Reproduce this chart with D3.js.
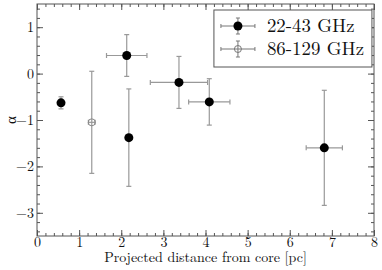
<!DOCTYPE html>
<html>
<head>
<meta charset="utf-8">
<script src="https://cdn.jsdelivr.net/npm/d3@7"></script>
<style>
    body { margin: 0; background: #fff; }
    svg text { font-family: 'Latin Modern Roman' !important; fill: #111; }
</style>
</head>
<body>
<div id="chart"></div>
<script>
// 22-43 GHz points
var lowDist = [0.57, 2.13, 2.18, 3.37, 4.09, 6.82];
var lowDistErr = [0, 0.48, 0, 0.68, 0.49, 0.43];
var lowAlpha = [-0.63, 0.39, -1.38, -0.19, -0.61, -1.60];
var lowAlphaErr = [0.13, 0.45, 1.05, 0.56, 0.50, 1.24];

// 86-129 GHz points
var highDist = [1.30];
var highDistErr = [0.08];
var highAlpha = [-1.05];
var highAlphaErr = [1.10];

var xTicks = [0, 1, 2, 3, 4, 5, 6, 7, 8];
var yTicks = [-3, -2, -1, 0, 1];
var seriesNames = ['22-43 GHz', '86-129 GHz'];

var margin = { top: 4, left: 37, bottom: 34, right: 8 },
    width = 382 - margin.left - margin.right,
    height = 270 - margin.top - margin.bottom;

var svg = d3.select('#chart').append('svg')
    .attr('width', 382)
    .attr('height', 270)
    .attr('font-family', 'Latin Modern Roman')
    .append('g')
    .attr('transform', 'translate(' + margin.left + ',' + margin.top + ')');

var x = d3.scaleLinear().domain([0, 8]).range([0, width]);
var y = d3.scaleLinear().domain([-3.5, 1.5]).range([height, 0]);

var errColor = '#999';
var frameColor = '#555';

function makeRows(dist, dErr, alpha, aErr) {
    return dist.map((d, i) => ({ x: d, xe: dErr[i], y: alpha[i], ye: aErr[i] }));
}
var low = makeRows(lowDist, lowDistErr, lowAlpha, lowAlphaErr);
var high = makeRows(highDist, highDistErr, highAlpha, highAlphaErr);

// ticks on all four sides, pointing in
var minorX = d3.range(0, 8.001, 0.2);
var minorY = d3.range(-3.4, 1.5, 0.2);
var fmt = d => d < 0 ? '\u2212' + Math.abs(d) : '' + d;

function tickAxis(axis, values, size) {
    return axis.tickValues(values).tickSizeInner(-size).tickSizeOuter(0).tickFormat('');
}

function sides() {
    return [
        [d3.axisBottom(x), 'translate(0,' + height + ')', minorX, xTicks],
        [d3.axisTop(x), 'translate(0,0)', minorX, xTicks],
        [d3.axisLeft(y), 'translate(0,0)', minorY, yTicks],
        [d3.axisRight(y), 'translate(' + width + ',0)', minorY, yTicks]
    ];
}
sides().forEach(a => {
    svg.append('g').attr('transform', a[1]).call(tickAxis(a[0], a[2], 3))
        .call(g => g.select('.domain').remove())
        .selectAll('line').attr('stroke', frameColor);
});
sides().forEach(a => {
    svg.append('g').attr('transform', a[1]).call(tickAxis(a[0], a[3], 6))
        .call(g => g.select('.domain').remove())
        .selectAll('line').attr('stroke', frameColor);
});

// labels (font kept at 14-16px, larger sizes fall back to sans here)
var xAxis = d3.axisBottom(x).tickValues(xTicks).tickSize(0).tickPadding(1).tickFormat(fmt);
svg.append('g').attr('transform', 'translate(0,' + height + ')').call(xAxis)
    .attr('font-family', null)
    .call(g => g.select('.domain').remove())
    .selectAll('text').style('font-size', '14px');

var yAxis = d3.axisLeft(y).tickValues(yTicks).tickSize(0).tickPadding(3).tickFormat(fmt);
svg.append('g').call(yAxis)
    .attr('font-family', null)
    .call(g => g.select('.domain').remove())
    .selectAll('text').style('font-size', '14px');

svg.append('rect')
    .attr('width', width).attr('height', height)
    .attr('fill', 'none').attr('stroke', frameColor);

svg.append('text')
    .attr('x', width / 2).attr('y', height + 26)
    .attr('text-anchor', 'middle')
    .style('font-size', '14px')
    .text('Projected distance from core [pc]');

svg.append('text')
    .attr('transform', 'translate(' + (-21) + ',' + y(-1) + ') rotate(-90)')
    .attr('text-anchor', 'middle')
    .style('font-size', '15px')
    .text('\u03b1');

// error bars
function errorBars(data, cls) {
    var g = svg.append('g').attr('class', cls).attr('stroke', errColor).attr('stroke-width', 1.2);
    var cap = 2.5;
    data.forEach(d => {
        g.append('line').attr('x1', x(d.x)).attr('x2', x(d.x))
            .attr('y1', y(d.y + d.ye)).attr('y2', y(d.y - d.ye));
        g.append('line').attr('x1', x(d.x) - cap).attr('x2', x(d.x) + cap)
            .attr('y1', y(d.y + d.ye)).attr('y2', y(d.y + d.ye));
        g.append('line').attr('x1', x(d.x) - cap).attr('x2', x(d.x) + cap)
            .attr('y1', y(d.y - d.ye)).attr('y2', y(d.y - d.ye));
        if (d.xe > 0) {
            g.append('line').attr('x1', x(d.x - d.xe)).attr('x2', x(d.x + d.xe))
                .attr('y1', y(d.y)).attr('y2', y(d.y));
            g.append('line').attr('x1', x(d.x - d.xe)).attr('x2', x(d.x - d.xe))
                .attr('y1', y(d.y) - cap).attr('y2', y(d.y) + cap);
            g.append('line').attr('x1', x(d.x + d.xe)).attr('x2', x(d.x + d.xe))
                .attr('y1', y(d.y) - cap).attr('y2', y(d.y) + cap);
        }
    });
}
errorBars(low, 'err-low');
errorBars(high, 'err-high');

svg.selectAll('.pt-low').data(low).enter().append('circle')
    .attr('class', 'pt-low')
    .attr('cx', d => x(d.x)).attr('cy', d => y(d.y))
    .attr('r', 4.5).attr('fill', '#000');

svg.selectAll('.pt-high').data(high).enter().append('circle')
    .attr('class', 'pt-high')
    .attr('cx', d => x(d.x)).attr('cy', d => y(d.y))
    .attr('r', 3.5).attr('fill', 'none').attr('stroke', '#888').attr('stroke-width', 1);

// legend
var lg = svg.append('g').attr('transform', 'translate(' + (x(4.2)) + ',' + 6 + ')');
lg.append('rect').attr('width', 158).attr('height', 57)
    .attr('fill', '#fff').attr('stroke', frameColor);
seriesNames.forEach((name, i) => {
    var cy = 16 + i * 23;
    var row = lg.append('g').attr('transform', 'translate(0,' + cy + ')');
    row.append('line').attr('x1', 7).attr('x2', 41).attr('y1', 0).attr('y2', 0)
        .attr('stroke', '#777');
    row.append('line').attr('x1', 24).attr('x2', 24).attr('y1', -8).attr('y2', 8)
        .attr('stroke', '#777');
    [-1, 1].forEach(s => {
        row.append('line').attr('x1', 22).attr('x2', 26).attr('y1', s * 8).attr('y2', s * 8).attr('stroke', '#777');
        row.append('line').attr('x1', 24 + s * 17).attr('x2', 24 + s * 17).attr('y1', -2).attr('y2', 2).attr('stroke', '#777');
    });
    if (i === 0) {
        row.append('circle').attr('cx', 24).attr('r', 4.5).attr('fill', '#000');
    } else {
        row.append('circle').attr('cx', 24).attr('r', 3.5).attr('fill', 'none').attr('stroke', '#777');
    }
    row.append('text')
        .attr('transform', 'translate(53,6) scale(1.18)')
        .style('font-size', '16px')
        .text(name);
});
</script>
</body>
</html>
